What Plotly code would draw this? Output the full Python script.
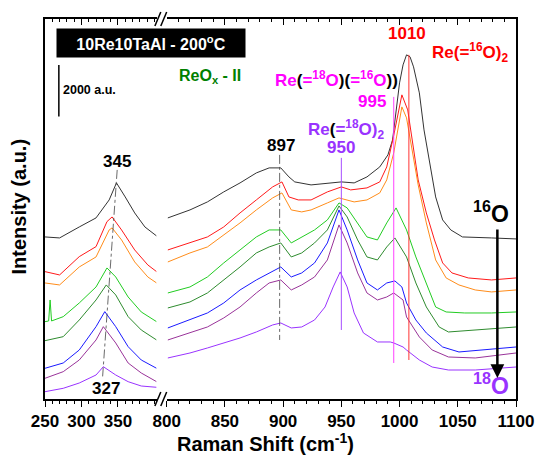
import plotly.graph_objects as go

# ---------------- data (Raman shift in cm-1, intensity in a.u.) ----------------
# low-wavenumber window (250-400 cm-1)
BLACK_L_X = [250, 270, 297, 320, 338, 348, 360, 373, 387, 403]
BLACK_L_Y = [6269, 6231, 6656, 7005, 7701, 8359, 7817, 7198, 6656, 6308]
RED_L_X = [250, 270, 297, 320, 335, 342, 355, 373, 391, 403]
RED_L_Y = [4927, 4799, 5507, 5894, 6862, 7043, 6540, 5766, 5186, 4927]
ORANGE_L_X = [250, 270, 297, 320, 338, 342, 355, 373, 391, 403]
ORANGE_L_Y = [4489, 4412, 5108, 5495, 6540, 6618, 6153, 5302, 4721, 4489]
GREEN_L_X = [250, 255, 257, 259, 275, 297, 320, 335, 347, 364, 382, 403]
GREEN_L_Y = [2992, 3019, 3831, 3019, 3185, 3715, 4334, 5070, 4721, 3947, 3367, 2992]
DKGREEN_L_X = [250, 275, 297, 320, 334, 347, 364, 382, 403]
DKGREEN_L_Y = [2256, 2411, 3057, 3831, 4412, 4025, 3185, 2670, 2283]
BLUE_L_X = [250, 275, 297, 320, 332, 347, 364, 382, 403]
BLUE_L_Y = [1188, 1393, 1896, 2798, 3379, 2798, 2024, 1509, 1188]
PURPLE_L_X = [250, 275, 297, 320, 330, 347, 364, 382, 403]
PURPLE_L_Y = [801, 1057, 1509, 2283, 2798, 2167, 1393, 1006, 670]
VIOLET_L_X = [250, 275, 297, 320, 330, 347, 364, 382, 403]
VIOLET_L_Y = [283, 414, 619, 929, 1250, 929, 670, 503, 453]

# high-wavenumber window (800-1100 cm-1)
BLACK_R_X = [801, 820, 835, 849, 863, 877, 888, 898, 905, 910, 924, 938, 950, 961, 972, 983,
             990, 994, 997, 1000, 1003, 1006, 1009, 1012, 1017, 1021, 1031, 1037, 1044, 1054, 1079, 1100]
BLACK_R_Y = [7005, 7314, 7624, 8011, 8359, 8746, 8940, 8940, 8591, 8398, 8282, 8359, 8398, 8359, 8591, 8978,
             9443, 10023, 11107, 12229, 12926, 13313, 13236, 12848, 11842, 10410, 7817, 6927, 6540, 6269, 6231, 6192]
RED_R_X = [801, 820, 835, 849, 863, 877, 891, 899, 905, 913, 924, 938, 950, 958, 972, 983, 989,
           995, 1002, 1007, 1010, 1016, 1023, 1030, 1037, 1045, 1059, 1079, 1100]
RED_R_Y = [5766, 6037, 6269, 6656, 7198, 7701, 8204, 8398, 7817, 7701, 7701, 8011, 8204, 8088, 8166, 8398, 8978,
           10200, 11765, 11184, 10217, 8475, 7198, 6153, 5263, 4876, 4683, 4605, 4683]
ORANGE_R_X = [801, 820, 835, 849, 863, 877, 891, 899, 907, 916, 924, 938, 948, 961, 972, 983, 989,
              995, 1002, 1006, 1010, 1016, 1023, 1031, 1040, 1051, 1065, 1079, 1100]
ORANGE_R_Y = [5302, 5650, 5882, 6347, 6811, 7314, 7779, 7972, 7314, 7237, 7314, 7585, 7779, 7624, 7701, 7972, 8475,
              9520, 11300, 10875, 9830, 8282, 6811, 5379, 4683, 4412, 4218, 4141, 4218]
GREEN_R_X = [801, 820, 835, 849, 863, 877, 888, 898, 907, 916, 927, 938, 948, 955, 964, 972, 981,
             989, 997, 1006, 1014, 1023, 1031, 1040, 1056, 1079, 1100]
GREEN_R_Y = [4102, 4334, 4721, 5263, 5766, 6269, 6540, 6540, 6037, 6269, 6540, 6927, 7585, 7392, 6811, 6269, 6153,
             6811, 7392, 6540, 5495, 4489, 3560, 3367, 3328, 3328, 3367]
DKGREEN_R_X = [801, 820, 835, 849, 863, 877, 888, 898, 907, 916, 927, 938, 948, 955, 964, 972, 981,
               989, 996, 1006, 1014, 1023, 1034, 1042, 1065, 1100]
DKGREEN_R_Y = [3522, 3754, 4102, 4605, 5108, 5650, 5882, 6037, 5495, 5650, 6037, 6540, 7469, 7043, 6153, 5495, 5379,
               5882, 6231, 5495, 4489, 3560, 2786, 2593, 2670, 2786]
BLUE_R_X = [801, 820, 835, 849, 863, 877, 888, 898, 907, 916, 927, 938, 948, 955, 964, 972, 981,
            989, 996, 1002, 1006, 1014, 1023, 1037, 1051, 1068, 1100]
BLUE_R_Y = [2748, 3057, 3328, 3715, 4218, 4605, 4876, 5108, 4721, 4876, 5263, 6037, 7314, 6540, 5379, 4489, 4218,
            4489, 4567, 4334, 3715, 3057, 2554, 2012, 1819, 1896, 2012]
PURPLE_R_X = [801, 820, 835, 849, 863, 877, 888, 898, 907, 916, 927, 938, 948, 955, 964, 972, 981,
              989, 995, 1003, 1006, 1017, 1028, 1042, 1065, 1100]
PURPLE_R_Y = [2283, 2554, 2786, 3135, 3560, 4102, 4489, 4605, 4218, 4412, 4721, 5379, 6734, 6037, 4876, 4102, 3831,
              3947, 4102, 3831, 3173, 2399, 1896, 1625, 1587, 1780]
VIOLET_R_X = [801, 820, 835, 849, 863, 877, 891, 898, 907, 916, 927, 936, 943, 949, 955, 961, 969,
              981, 992, 995, 1003, 1006, 1017, 1028, 1042, 1065, 1100]
VIOLET_R_Y = [1587, 1780, 1974, 2167, 2361, 2593, 2864, 2941, 2748, 2786, 3057, 3560, 4334, 4915, 4334, 3328, 2554,
              2206, 2206, 2167, 2012, 1896, 1509, 1238, 1122, 1122, 1238]

SERIES_COLORS = ["#333333", "#ff1a1a", "#ff8c1a", "#22cc22", "#2e8b2e", "#1a1aff", "#993399", "#9933ff"]

# guide lines (position, y from, y to)
SHIFT_LINE_X = [349, 329]          # 345 -> 327 cm-1 shift guide (dash-dot)
SHIFT_LINE_Y = [8862, 863]
LINE_897 = [897, 9443, 2283]
LINE_950 = [950, 9327, 2670]
LINE_995 = [995, 11687, 1393]
LINE_1010 = [1008, 13313, 1509]
SCALE_BAR_X = 269
SCALE_BAR_Y0 = 10925
SCALE_BAR_LEN = 2000
ARROW_X = 1084
ARROW_Y = [6618, 813]

LEFT_TICKS = [250, 300, 350]
RIGHT_TICKS = [800, 850, 900, 950, 1000, 1050, 1100]
Y_MAX = 14700

# ---------------- layout helpers ----------------
W, H = 546, 455
ML, MR, MT, MB = 45, 21, 19, 56
PW, PH = W - ML - MR, H - MT - MB


def xp(px):
    return (px - ML) / PW


def yp(py):
    return (MT + PH - py) / PH


FONT = "Liberation Sans, Arial, sans-serif"

fig = go.Figure()

left = [(BLACK_L_X, BLACK_L_Y), (RED_L_X, RED_L_Y), (ORANGE_L_X, ORANGE_L_Y), (GREEN_L_X, GREEN_L_Y),
        (DKGREEN_L_X, DKGREEN_L_Y), (BLUE_L_X, BLUE_L_Y), (PURPLE_L_X, PURPLE_L_Y), (VIOLET_L_X, VIOLET_L_Y)]
right = [(BLACK_R_X, BLACK_R_Y), (RED_R_X, RED_R_Y), (ORANGE_R_X, ORANGE_R_Y), (GREEN_R_X, GREEN_R_Y),
         (DKGREEN_R_X, DKGREEN_R_Y), (BLUE_R_X, BLUE_R_Y), (PURPLE_R_X, PURPLE_R_Y), (VIOLET_R_X, VIOLET_R_Y)]

for (lx, ly), (rx, ry), c in zip(left, right, SERIES_COLORS):
    fig.add_trace(go.Scatter(x=lx, y=ly, mode="lines", line=dict(color=c, width=1),
                             xaxis="x", yaxis="y", showlegend=False, hoverinfo="skip"))
    fig.add_trace(go.Scatter(x=rx, y=ry, mode="lines", line=dict(color=c, width=1),
                             xaxis="x2", yaxis="y2", showlegend=False, hoverinfo="skip"))

# guide lines
fig.add_trace(go.Scatter(x=SHIFT_LINE_X, y=SHIFT_LINE_Y, mode="lines",
                         line=dict(color="#444444", width=0.8, dash="dashdot"),
                         xaxis="x", yaxis="y", showlegend=False, hoverinfo="skip"))
fig.add_trace(go.Scatter(x=[LINE_897[0]] * 2, y=LINE_897[1:], mode="lines",
                         line=dict(color="#444444", width=0.8, dash="dashdot"),
                         xaxis="x2", yaxis="y2", showlegend=False, hoverinfo="skip"))
for ln, col in [(LINE_950, "#a64dff"), (LINE_995, "#ff40ff"), (LINE_1010, "#ff3333")]:
    fig.add_trace(go.Scatter(x=[ln[0]] * 2, y=ln[1:], mode="lines", line=dict(color=col, width=1),
                             xaxis="x2", yaxis="y2", showlegend=False, hoverinfo="skip"))
# scale bar
fig.add_trace(go.Scatter(x=[SCALE_BAR_X] * 2, y=[SCALE_BAR_Y0, SCALE_BAR_Y0 + SCALE_BAR_LEN], mode="lines",
                         line=dict(color="black", width=1.5),
                         xaxis="x", yaxis="y", showlegend=False, hoverinfo="skip"))
# dummy traces so the top (inside-tick) axes render
fig.add_trace(go.Scatter(x=[], y=[], xaxis="x3", yaxis="y", showlegend=False))
fig.add_trace(go.Scatter(x=[], y=[], xaxis="x4", yaxis="y2", showlegend=False))

LD = [0, xp(158.7)]
RD = [xp(169), 1]
tickfont = dict(family=FONT, size=17, color="black", weight="bold")
common_x = dict(showline=True, linecolor="black", linewidth=1.5, showgrid=False, zeroline=False,
                ticks="outside", ticklen=6, tickwidth=1.2, tickcolor="black", tickfont=tickfont)

fig.update_layout(
    width=W, height=H, margin=dict(l=ML, r=MR, t=MT, b=MB),
    paper_bgcolor="white", plot_bgcolor="white", showlegend=False,
    xaxis=dict(domain=LD, range=[250, 403], anchor="y", tickvals=LEFT_TICKS,
               minor=dict(dtick=10, tick0=250, ticks="outside", ticklen=3.5, tickcolor="black"), **common_x),
    xaxis2=dict(domain=RD, range=[800, 1100], anchor="y2", tickvals=RIGHT_TICKS,
                minor=dict(dtick=10, tick0=800, ticks="outside", ticklen=3.5, tickcolor="black"), **common_x),
    xaxis3=dict(domain=LD, range=[250, 403], overlaying="x", anchor="y", side="top", showline=True,
                linecolor="black", linewidth=1.5, ticks="inside", ticklen=6, tickwidth=1.2, tickcolor="black",
                tickvals=LEFT_TICKS, showticklabels=False, showgrid=False, zeroline=False,
                minor=dict(dtick=10, tick0=250, ticks="inside", ticklen=3.5, tickcolor="black")),
    xaxis4=dict(domain=RD, range=[800, 1100], overlaying="x2", anchor="y2", side="top", showline=True,
                linecolor="black", linewidth=1.5, ticks="inside", ticklen=6, tickwidth=1.2, tickcolor="black",
                tickvals=RIGHT_TICKS, showticklabels=False, showgrid=False, zeroline=False,
                minor=dict(dtick=10, tick0=800, ticks="inside", ticklen=3.5, tickcolor="black")),
    yaxis=dict(domain=[0, 1], range=[0, Y_MAX], anchor="x", showline=True, linecolor="black", linewidth=1.5,
               showticklabels=False, ticks="", showgrid=False, zeroline=False),
    yaxis2=dict(domain=[0, 1], range=[0, Y_MAX], anchor="x2", side="right", showline=True, linecolor="black",
                linewidth=1.5, showticklabels=False, ticks="", showgrid=False, zeroline=False),
)

# axis-break slashes (bottom and top)
for (x0, y0, x1, y1) in [(157, 406, 163, 392), (163, 406, 169, 392), (157, 26, 163, 12), (163, 26, 169, 12)]:
    fig.add_shape(type="line", xref="paper", yref="paper", x0=xp(x0), y0=yp(y0), x1=xp(x1), y1=yp(y1),
                  line=dict(color="black", width=1.5))


def ann(text, px, py, size, color="black", xanchor="center", **kw):
    fig.add_annotation(text=text, xref="paper", yref="paper", x=xp(px), y=yp(py), showarrow=False,
                       xanchor=xanchor, yanchor="middle",
                       font=dict(family=FONT, size=size, color=color, weight="bold"), **kw)


VIO = "#9933ff"
MAG = "#ff00ff"
RED = "#ff0000"
ann("10Re10TaAl - 200<sup>o</sup>C", 153, 43, 16, "white", bgcolor="black", width=186, height=26)
ann("2000 a.u.", 61, 90, 12.5, xanchor="left")
ann("ReO<sub>x</sub> - II", 213, 76, 16, "#008000")
ann("1010", 414, 33, 17, RED)
ann("Re(=<sup>16</sup>O)<sub>2</sub>", 478, 53, 17, RED)
ann("Re<span style='color:black'>(</span>=<sup>18</sup>O<span style='color:black'>)(</span>=<sup>16</sup>O<span style='color:black'>))</span>",
    342, 79, 17, MAG)
ann("995", 378, 101, 17, MAG)
ann("Re<span style='color:black'>(</span>=<sup>18</sup>O)<sub>2</sub>", 352, 129, 17, VIO)
ann("950", 347, 148, 17, VIO)
ann("897", 286, 145, 17)
ann("345", 118, 161, 17)
ann("327", 107, 388, 17)
ann("<sup>16</sup>O", 500, 212, 23)
ann("<sup>18</sup>O", 500, 384, 23, VIO)
ann("Intensity (a.u.)", 18, 207, 20, textangle=-90)
ann("Raman Shift (cm<sup>-1</sup>)", 270, 442, 20)

# arrow 16O -> 18O
fig.add_annotation(x=ARROW_X, y=ARROW_Y[1], ax=ARROW_X, ay=ARROW_Y[0], xref="x2", yref="y2",
                   axref="x2", ayref="y2", showarrow=True, arrowhead=2, arrowsize=1.1, arrowwidth=2.5,
                   arrowcolor="black", text="")

fig.write_html("out.html")
